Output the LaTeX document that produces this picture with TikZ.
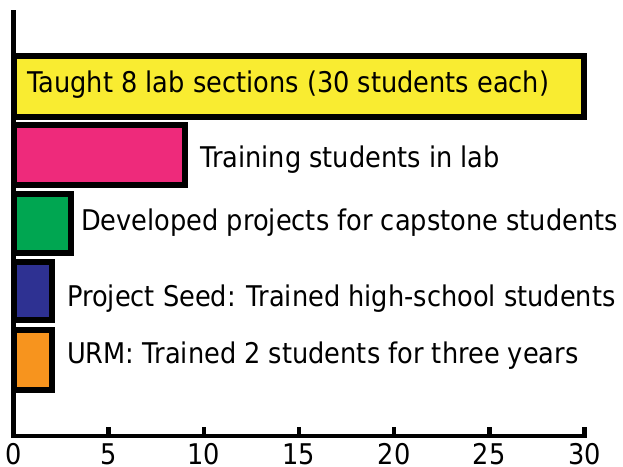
\documentclass[tikz,border=0pt]{standalone}
\usepackage{fontspec}
\setmainfont[FakeStretch=0.9]{DejaVu Sans}
\definecolor{baryellow}{HTML}{F9EC31}
\definecolor{barpink}{HTML}{EE2A7B}
\definecolor{bargreen}{HTML}{00A651}
\definecolor{barblue}{HTML}{2E3192}
\definecolor{barorange}{HTML}{F7941E}
\begin{document}
\begin{tikzpicture}[x=1pt,y=-1pt,
  barbox/.style={draw=black,line width=6pt},
  lbl/.style={anchor=base west,inner sep=0pt,font=\fontsize{28.5}{34}\selectfont},
  ticklbl/.style={anchor=base,inner sep=0pt,text depth=0pt,font=\fontsize{28.5}{34}\selectfont},
  axisline/.style={line width=4.5pt,draw=black}]
\useasboundingbox (0,0) rectangle (623,466);
% bars
\path[barbox,fill=baryellow] (14,56) rectangle (584.4,117);
\path[barbox,fill=barpink]   (14,125) rectangle (184.8,185);
\path[barbox,fill=bargreen]  (14,194) rectangle (70.6,253);
\path[barbox,fill=barblue]   (14,262) rectangle (51.6,320);
\path[barbox,fill=barorange] (14,330) rectangle (51.6,390);
% axes
\coordinate (ytop) at (13.5,10);
\coordinate (origin) at (13.5,436);
\coordinate (xend) at (586.5,436);
\draw[axisline] (ytop) -- ([yshift=-2.25pt]origin);
\draw[axisline] ([xshift=-2.25pt]origin) -- (xend);
\foreach \k in {5,10,...,30}{
  \draw[axisline] (13.5+\k*19.03,436) -- (13.5+\k*19.03,426.5);
}
\foreach \k in {0,5,...,30}{
  \node[ticklbl] (t\k) at (13.5+\k*19.03,464.5) {\k};
}
% labels
\node[lbl] (l1) at (27,92) {Taught 8 lab sections (30 students each)};
\node[lbl] (l2) at (200,167) {Training students in lab};
\node[lbl] (l3) at (81,230) {Developed projects for capstone students};
\node[lbl] (l4) at (67,306) {Project Seed: Trained high-school students};
\node[lbl] (l5) at (67,363) {URM: Trained 2 students for three years};
\end{tikzpicture}
\end{document}
